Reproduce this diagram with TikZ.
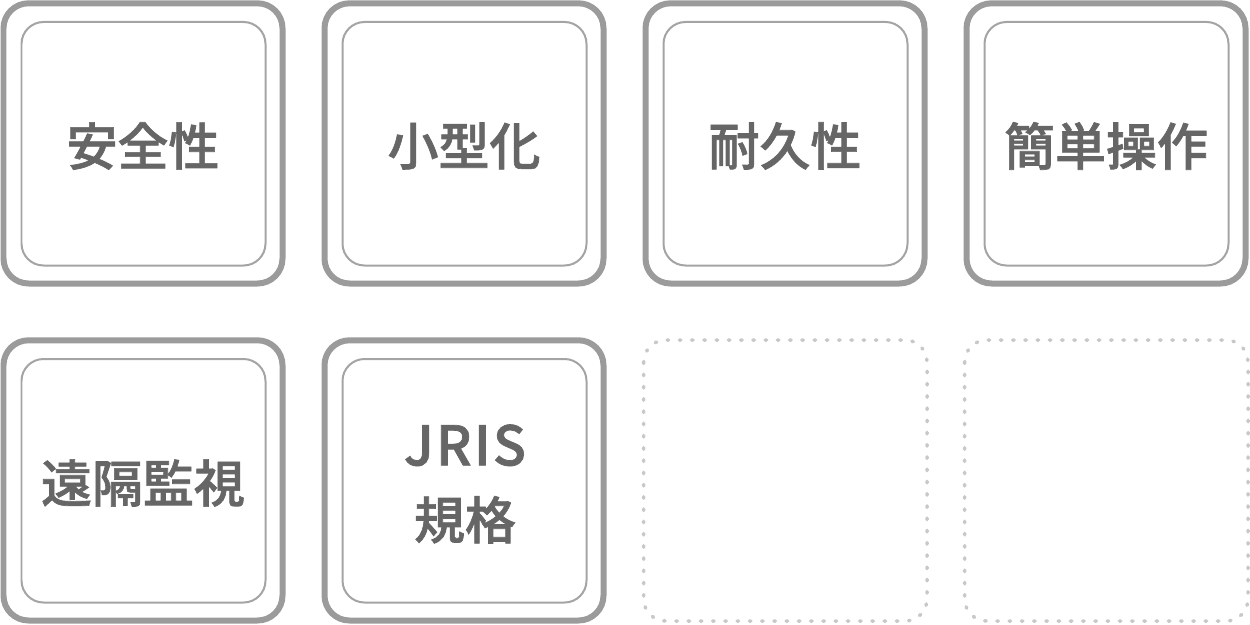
\documentclass[tikz,border=0pt]{standalone}
\usepackage{fontspec}
\newfontfamily\cjk{Noto Sans CJK JP Medium}[FakeBold=1.3]
\definecolor{tileframe}{HTML}{9B9B9B}
\definecolor{tileinner}{HTML}{A4A4A4}
\definecolor{tiletext}{HTML}{666666}
\definecolor{tiledots}{HTML}{C8C8C8}
\tikzset{
  outerframe/.style={draw=tileframe, line width=0.12cm, rounded corners=0.5cm},
  innerframe/.style={draw=tileinner, line width=0.04cm, rounded corners=0.44cm},
  emptyframe/.style={draw=tiledots, line width=0.07cm, line cap=round,
    dash pattern=on 0.03cm off 0.215cm, rounded corners=0.44cm},
  label/.style={text=tiletext, font=\cjk\fontsize{29}{42}\selectfont, align=center, inner sep=0pt}
}
\begin{document}
\begin{tikzpicture}[x=0.02cm, y=-0.02cm]
            \useasboundingbox (0,0) rectangle (1250,625);

            % Drawing filled tiles (column, row)
            \foreach \i/\j in {0/0, 1/0, 2/0, 3/0, 0/1, 1/1}{
              \draw [outerframe] (3.5+321*\i,3.3+337*\j) rectangle (282.5+321*\i,283.5+337*\j);%
              \draw [innerframe] (21.5+321*\i,22+337*\j) rectangle (265.5+321*\i,265.5+337*\j);%
            }

            % Drawing empty tiles
            \foreach \x in {643.7, 964.7}{
              \draw [emptyframe] (\x,340) rectangle (\x+283.3,621);%
            }

            % Marking tile texts
            \node [label] (anzen) at (143,146) {安全性};
            \node [label] (kogata) at (464,146) {小型化};
            \node [label] (taikyu) at (785,146) {耐久性};
            \node [label] (kantan) at (1106,146) {簡単操作};
            \node [label] (enkaku) at (143,483) {遠隔監視};
            \node [label] (jris) at (465,484) {{\fontsize{31}{42}\selectfont\addfontfeature{LetterSpace=4}JRIS}\\規格};
\end{tikzpicture}
\end{document}
